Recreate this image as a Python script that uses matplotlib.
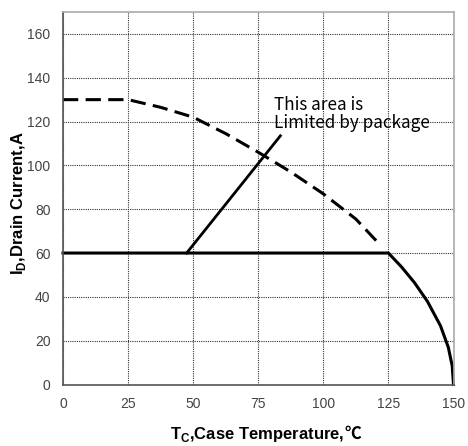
import numpy as np
import matplotlib.pyplot as plt

# case temperature (C) and drain current (A)
t_pkg = [0, 25, 37.5, 50, 62.5, 75, 87.5, 100, 112.5, 122]
id_pkg = [130, 130, 126.5, 122, 114.5, 106, 97, 87, 75.5, 63.5]

t_lim = [0, 125, 130, 135, 140, 145, 148, 149.5, 150]
id_lim = [60, 60, 53.7, 46.5, 37.9, 26.8, 17, 8.5, 0]

note_t = [47.5, 83.5]
note_id = [60, 113.5]

xticks = [0, 25, 50, 75, 100, 125, 150]
yticks = [0, 20, 40, 60, 80, 100, 120, 140, 160]

fig = plt.figure(figsize=(4.68, 4.46), dpi=100)
ax = fig.add_axes([63/468, 1-384.5/446, 390.5/468, 372.5/446])

ax.set_xlim(0, 150)
ax.set_ylim(0, 170)
ax.set_xticks(xticks)
ax.set_yticks(yticks)
ax.grid(True, color='#333333', linestyle=(0, (1, 1)), linewidth=0.8)
ax.tick_params(length=0, pad=9, labelsize=10, labelcolor='#444444')
for lab in ax.get_xticklabels() + ax.get_yticklabels():
    lab.set_family(['Liberation Sans', 'DejaVu Sans'])

ax.spines['left'].set_color('#555555')
ax.spines['bottom'].set_color('#555555')
ax.spines['top'].set_color('#aaaaaa')
ax.spines['right'].set_color('#aaaaaa')
for s in ax.spines.values():
    s.set_linewidth(1.2)

ax.plot(t_pkg, id_pkg, color='black', lw=2.2, dashes=(5, 2.4), clip_on=False)
ax.plot(t_lim, id_lim, color='black', lw=2.2, clip_on=False)
ax.plot(note_t, note_id, color='black', lw=2.0)

ax.text(81.0, 131.5, "This area is\nLimited by package", va='top', ha='left',
        fontsize=12.3, family=['Noto Sans CJK SC', 'DejaVu Sans'], linespacing=1.0)

# axis titles; the degree sign goes in its own text since mathtext has no fallback font
lab_font = dict(fontsize=12, fontweight='bold', family=['Liberation Sans', 'DejaVu Sans'])
ax.text(0.72, -0.133, r'T$_\mathregular{C}$,Case Temperature,', transform=ax.transAxes,
        ha='right', va='center', **lab_font)
ax.text(0.72, -0.133, '℃', transform=ax.transAxes, ha='left', va='center',
        fontsize=12, fontweight='bold', family=['Noto Sans CJK SC', 'DejaVu Sans'])
ax.text(-0.115, 0.487, r'I$_\mathregular{D}$,Drain Current,A', transform=ax.transAxes,
        ha='center', va='center', rotation=90, **lab_font)

fig.savefig('out.png', dpi=100)
